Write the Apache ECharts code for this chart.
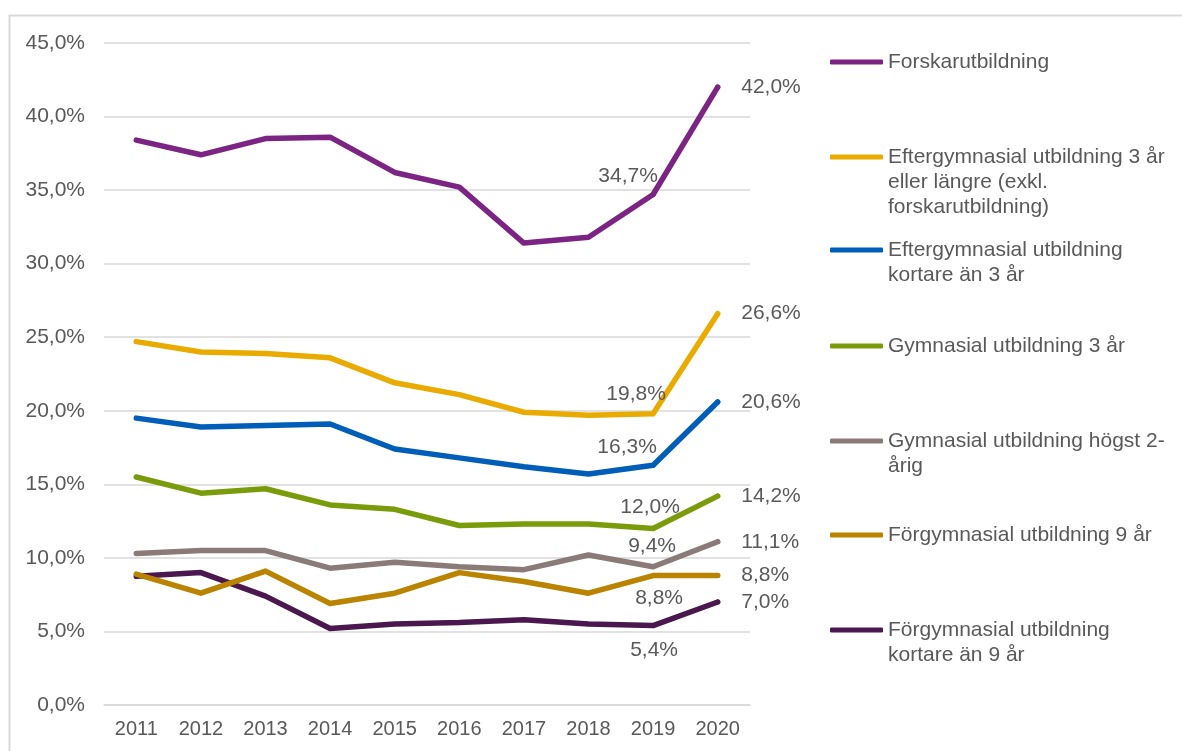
<!DOCTYPE html>
<html>
<head>
<meta charset="utf-8">
<script src="https://cdn.jsdelivr.net/npm/echarts@6/dist/echarts.min.js"></script>
<style>
  html, body { margin: 0; padding: 0; background: #fff; overflow: hidden; }
  #main { width: 1182px; height: 751px; }
</style>
</head>
<body>
<div id="main"></div>
<script>
// data
var years = ['2011', '2012', '2013', '2014', '2015', '2016', '2017', '2018', '2019', '2020'];
var yTicks = [0, 5, 10, 15, 20, 25, 30, 35, 40, 45];

var forskar    = [38.4, 37.4, 38.5, 38.6, 36.2, 35.2, 31.4, 31.8, 34.7, 42.0];
var efter3     = [24.7, 24.0, 23.9, 23.6, 21.9, 21.1, 19.9, 19.7, 19.8, 26.6];
var efterKort  = [19.5, 18.9, 19.0, 19.1, 17.4, 16.8, 16.2, 15.7, 16.3, 20.6];
var gym3       = [15.5, 14.4, 14.7, 13.6, 13.3, 12.2, 12.3, 12.3, 12.0, 14.2];
var gym2       = [10.3, 10.5, 10.5, 9.3, 9.7, 9.4, 9.2, 10.2, 9.4, 11.1];
var forgym9    = [8.9, 7.6, 9.1, 6.9, 7.6, 9.0, 8.4, 7.6, 8.8, 8.8];
var forgymKort = [8.75, 9.0, 7.4, 5.2, 5.5, 5.6, 5.8, 5.5, 5.4, 7.0];

var names = [
    'Forskarutbildning',
    'Eftergymnasial utbildning 3 år eller längre (exkl. forskarutbildning)',
    'Eftergymnasial utbildning kortare än 3 år',
    'Gymnasial utbildning 3 år',
    'Gymnasial utbildning högst 2-årig',
    'Förgymnasial utbildning 9 år',
    'Förgymnasial utbildning kortare än 9 år'
];
var legendLabels = [
    'Forskarutbildning',
    'Eftergymnasial utbildning 3 år\neller längre (exkl.\nforskarutbildning)',
    'Eftergymnasial utbildning\nkortare än 3 år',
    'Gymnasial utbildning 3 år',
    'Gymnasial utbildning högst 2-\nårig',
    'Förgymnasial utbildning 9 år',
    'Förgymnasial utbildning\nkortare än 9 år'
];
var values = [forskar, efter3, efterKort, gym3, gym2, forgym9, forgymKort];

// styling
var colors = ['#7B2483', '#EAAB00', '#005EB8', '#7A9C0A', '#8A7B78', '#BA8300', '#4A174E'];
var textColor = '#595959';
var font = "'Liberation Sans', Arial, sans-serif";
// where the 2019 label sits relative to its point
var label2019 = [
    { position: 'top', offset: [-25, 0] },
    { position: 'top', offset: [-17, -2] },
    { position: 'top', offset: [-26, 0] },
    { position: 'top', offset: [-3, -3] },
    { position: 'top', offset: [-1, -3] },
    { position: 'bottom', offset: [6, 5] },
    { position: 'bottom', offset: [1, 7] }
];
var legendCenters = [62, 157, 250, 346, 441, 535, 630];
var lineH = 25;

function pct(v) {
    return v.toFixed(1).replace('.', ',') + '%';
}

var myChart = echarts.init(document.getElementById('main'));

var series = names.map(function (name, i) {
    var data = values[i].map(function (v, j) {
        if (j === 8) {
            return {
                value: v, symbol: 'circle', symbolSize: 5,
                label: { show: true, position: label2019[i].position, offset: label2019[i].offset }
            };
        }
        if (j === 9) {
            return {
                value: v, symbol: 'circle', symbolSize: 5,
                label: { show: true, position: 'right', distance: 21 }
            };
        }
        return v;
    });
    return {
        name: name,
        type: 'line',
        data: data,
        symbol: 'none',
        color: colors[i],
        lineStyle: { width: 5.5, color: colors[i], cap: 'round', join: 'round' },
        itemStyle: { color: colors[i] },
        label: {
            show: false,
            fontSize: 21,
            color: textColor,
            fontFamily: font,
            formatter: function (p) { return pct(p.value); }
        },
        emphasis: { disabled: true },
        z: 10 - i
    };
});

// one legend per item so each can sit where the reference puts it;
// blank lines in front keep the icon level with the first text line
var legends = names.map(function (name, i) {
    var lines = legendLabels[i].split('\n');
    var n = lines.length;
    var pad = [];
    for (var k = 1; k < n; k++) pad.push(' ');
    var txt = pad.concat(lines).join('\n');
    return {
        data: [name],
        left: 830,
        top: legendCenters[i] - (2 * n - 1) * lineH / 2,
        padding: 0,
        icon: 'roundRect',
        itemWidth: 53,
        itemHeight: 5,
        selectedMode: false,
        formatter: function () { return txt; },
        textStyle: {
            fontSize: 21,
            color: textColor,
            fontFamily: font,
            lineHeight: lineH
        }
    };
});

myChart.setOption({
    animation: false,
    backgroundColor: '#fff',
    textStyle: { fontFamily: font },
    grid: { left: 104, right: 432, top: 43, bottom: 46 },
    legend: legends,
    graphic: [{
        type: 'rect',
        left: 7,
        top: 13,
        silent: true,
        z: -10,
        shape: { width: 1250, height: 800 },
        style: { fill: 'none', stroke: '#d9d9d9', lineWidth: 2 }
    }],
    xAxis: {
        type: 'category',
        data: years,
        boundaryGap: true,
        axisTick: { show: false },
        axisLine: { show: true, lineStyle: { color: '#d9d9d9', width: 1.5 } },
        axisLabel: { fontSize: 20, color: textColor, margin: 14, fontFamily: font }
    },
    yAxis: {
        type: 'value',
        min: yTicks[0],
        max: yTicks[yTicks.length - 1],
        interval: yTicks[1] - yTicks[0],
        axisLine: { show: false },
        axisTick: { show: false },
        splitLine: { lineStyle: { color: '#d9d9d9', width: 1.5 } },
        axisLabel: { fontSize: 21, color: textColor, margin: 19, fontFamily: font, formatter: pct }
    },
    series: series
});
</script>
</body>
</html>
